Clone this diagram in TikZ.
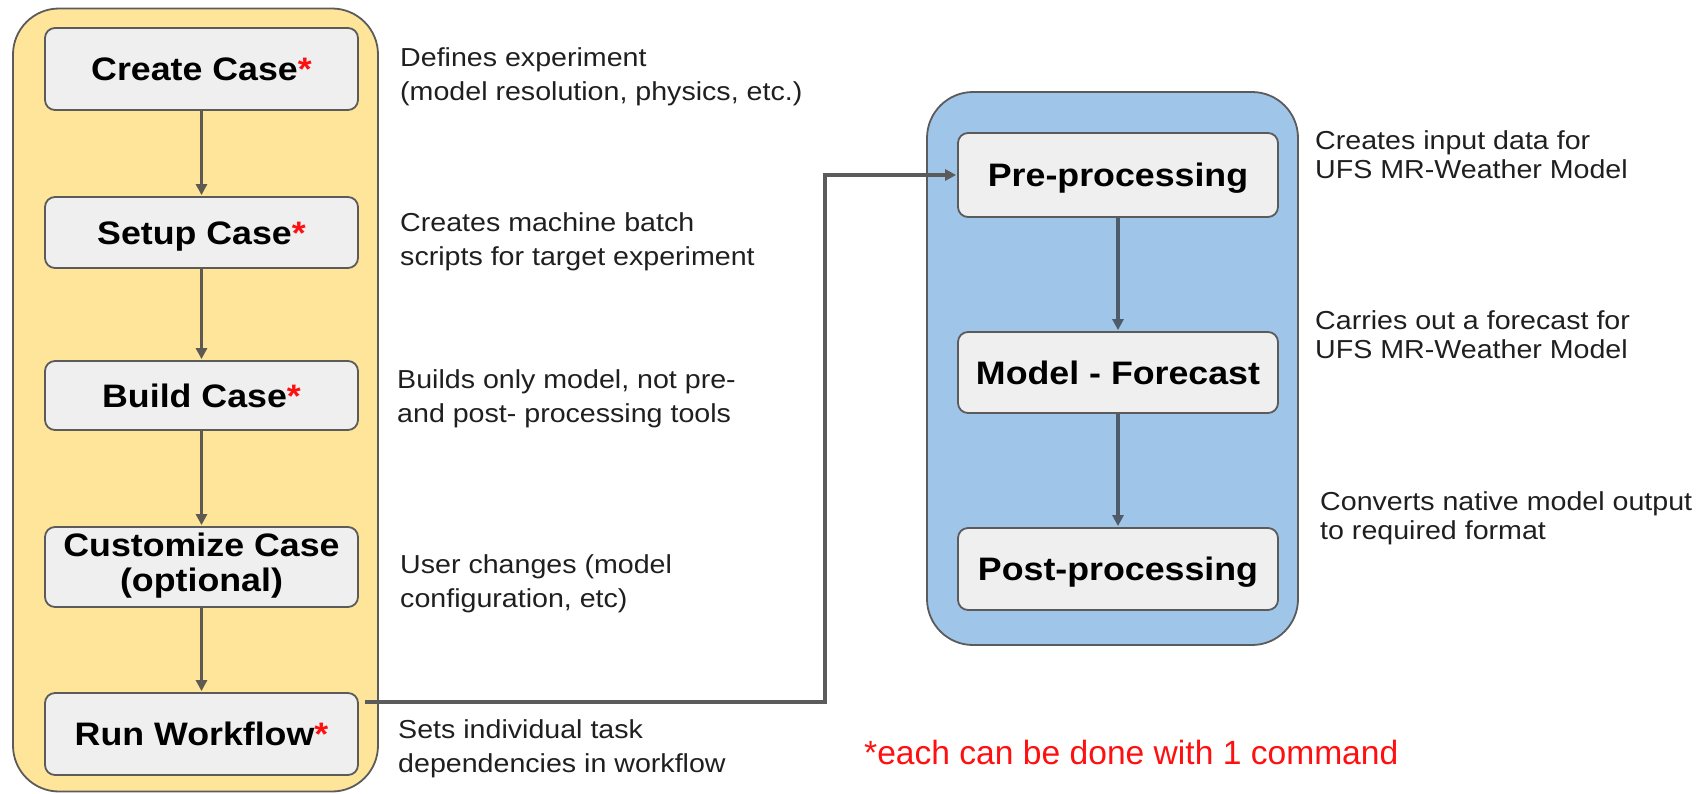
\documentclass[tikz,border=0pt]{standalone}
\usepackage{fontspec}
\setmainfont{Liberation Sans}
\usepackage{graphicx}
\usetikzlibrary{arrows.meta}

\definecolor{panelY}{HTML}{FFE599}
\definecolor{panelB}{HTML}{9FC5E8}
\definecolor{boxfill}{HTML}{EFEFEF}
\definecolor{edge}{HTML}{5B5B5B}
\definecolor{flowY}{HTML}{5E5A52}
\definecolor{flowB}{HTML}{4F5B68}
\definecolor{note}{HTML}{FF1010}

% slightly widened lettering
\newcommand\wideB[1]{\scalebox{1.1}[1]{#1}}
\newcommand\wideR[1]{\scalebox{1.1}[1]{#1}}
\newcommand\redmark{{\color{note}*}}
% two-line description, baseline on the first line
\newcommand\twoline[2]{\wideR{\begin{tabular}[t]{@{}l@{}}#1\\#2\end{tabular}}}

\begin{document}
\begin{tikzpicture}[x=1pt,y=-1pt,
  panel/.style={draw=edge, line width=1.8pt, rounded corners=46pt, inner sep=0pt},
  stepbox/.style={draw=edge, line width=1.8pt, fill=boxfill, rounded corners=10pt,
    inner sep=0pt, font=\fontsize{32.5}{35}\selectfont\bfseries,
    text height=23pt, text depth=0pt, align=center},
  ybox/.style={stepbox, minimum width=313pt},
  bbox/.style={stepbox, minimum width=320pt},
  desc/.style={anchor=base west, inner sep=0pt, font=\fontsize{26}{34}\selectfont, text=black!88},
  descR/.style={desc, font=\fontsize{26}{29.5}\selectfont},
  flow/.style={line width=3.2pt, -{Triangle[length=11pt,width=11pt]}, shorten >=1pt},
]
\useasboundingbox (0,0) rectangle (1702,793);

% panels
\node[panel, fill=panelY, minimum width=365pt, minimum height=783pt] (setup) at (195.5,400) {};
\node[panel, fill=panelB, minimum width=371pt, minimum height=553pt] (run) at (1112.5,368.5) {};

% case steps
\node[ybox, minimum height=82pt] (cc) at (201.5,69) {\wideB{Create Case\redmark}};
\node[ybox, minimum height=71pt] (sc) at (201.5,232.5) {\wideB{Setup Case\redmark}};
\node[ybox, minimum height=69pt] (bc) at (201.5,395.5) {\wideB{Build Case\redmark}};
\node[ybox, minimum height=80pt, text height=, text depth=] (cu) at (201.5,567)
  {\wideB{\begin{tabular}{@{}c@{}}Customize Case\\(optional)\end{tabular}}};
\node[ybox, minimum height=82pt] (rw) at (201.5,734) {\wideB{Run Workflow\redmark}};

% workflow tasks
\node[bbox, minimum height=84pt] (pre) at (1118,175) {\wideB{Pre-processing}};
\node[bbox, minimum height=81pt] (mf) at (1118,372.5) {\wideB{Model - Forecast}};
\node[bbox, minimum height=82pt] (post) at (1118,569) {\wideB{Post-processing}};

% connectors
\draw[flow, color=flowY] (cc) -- (sc);
\draw[flow, color=flowY] (sc) -- (bc);
\draw[flow, color=flowY] (bc) -- (cu);
\draw[flow, color=flowY] (cu) -- (rw);
\draw[flow, color=flowB] (pre) -- (mf);
\draw[flow, color=flowB] (mf) -- (post);

\coordinate (rwout) at (365,702);
\coordinate (bend) at (825,702);
\draw[flow, color=edge, line width=3.6pt, line join=miter] (rwout) -- (bend) |- (pre.west);

% descriptions
\node[desc] (d1) at (400,66) {\twoline{Defines experiment}{(model resolution, physics, etc.)}};
\node[desc] (d2) at (400,231.5) {\twoline{Creates machine batch}{scripts for target experiment}};
\node[desc] (d3) at (397,388) {\twoline{Builds only model, not pre-}{and post- processing tools}};
\node[desc] (d4) at (400,573) {\twoline{User changes (model}{configuration, etc)}};
\node[desc] (d5) at (398,738) {\twoline{Sets individual task}{dependencies in workflow}};

\node[descR] (r1) at (1315,149) {\twoline{Creates input data for}{UFS MR-Weather Model}};
\node[descR] (r2) at (1315,329) {\twoline{Carries out a forecast for}{UFS MR-Weather Model}};
\node[descR] (r3) at (1320,510) {\twoline{Converts native model output}{to required format}};

\node[anchor=base west, inner sep=0pt, text=note, font=\fontsize{33.6}{36}\selectfont] (fn) at (864,764)
  {*each can be done with 1 command};
\end{tikzpicture}
\end{document}
